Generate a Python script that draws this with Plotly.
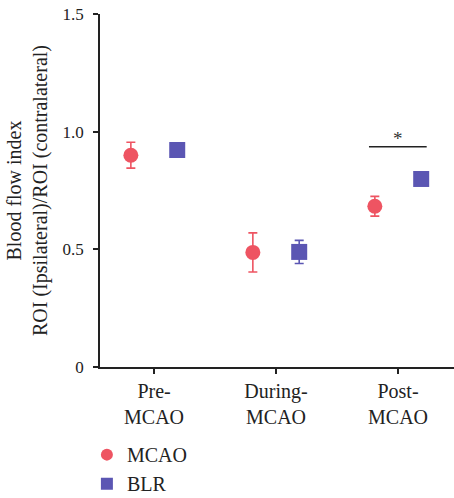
import plotly.graph_objects as go

categories = ["Pre-<br>MCAO", "During-<br>MCAO", "Post-<br>MCAO"]
mcao_values = [0.90, 0.487, 0.683]
mcao_errors = [0.055, 0.083, 0.042]
blr_values = [0.922, 0.489, 0.799]
blr_errors = [0.02, 0.049, 0.02]
y_ticks = [0, 0.5, 1.0, 1.5]
y_tick_labels = ["0", "0.5", "1.0", "1.5"]
sig_category = 2
sig_y = 0.936
sig_label = "*"

RED = "#EE5462"
BLUE = "#5B56B3"
FONT = "Liberation Serif"
offset = 0.19
xpos = list(range(len(categories)))

fig = go.Figure()
fig.add_trace(go.Scatter(
    x=[p - offset for p in xpos], y=mcao_values, mode="markers", name="MCAO",
    marker=dict(symbol="circle", size=15, color=RED),
    error_y=dict(type="data", array=mcao_errors, color=RED, thickness=1.6, width=4.5),
))
fig.add_trace(go.Scatter(
    x=[p + offset for p in xpos], y=blr_values, mode="markers", name="BLR",
    marker=dict(symbol="square", size=16, color=BLUE),
    error_y=dict(type="data", array=blr_errors, color=BLUE, thickness=1.6, width=4.5),
))

# significance bracket
fig.add_shape(type="line", xref="x", yref="y",
              x0=sig_category - 0.238, x1=sig_category + 0.235, y0=sig_y, y1=sig_y,
              line=dict(color="#222222", width=1.5))
fig.add_annotation(x=sig_category, y=sig_y, text=sig_label, showarrow=False,
                   yanchor="bottom", yshift=-4, font=dict(family=FONT, size=19, color="#333333"))

# extend x axis line slightly left of y axis
fig.add_shape(type="line", xref="paper", yref="paper", x0=-5/354, x1=0, y0=0, y1=0,
              line=dict(color="#222222", width=1.5))

fig.update_layout(
    width=454, height=498,
    margin=dict(l=100, r=0, t=14, b=131, autoexpand=False),
    plot_bgcolor="white", paper_bgcolor="white",
    font=dict(family=FONT, size=19, color="#222222"),
    showlegend=True,
    legend=dict(x=-0.037, y=-0.193, xanchor="left", yanchor="top",
                font=dict(family=FONT, size=20, color="#222222"),
                itemsizing="constant", tracegroupgap=4),
    xaxis=dict(range=[-0.443, 2.459], tickvals=xpos, ticktext=categories,
               showgrid=False, zeroline=False, showline=True, linecolor="#222222", linewidth=1.5,
               ticks="outside", ticklen=5, tickwidth=1.5, tickcolor="#222222", automargin=False,
               tickfont=dict(family=FONT, size=20, color="#222222")),
    yaxis=dict(range=[0, 1.5], tickvals=y_ticks, ticktext=y_tick_labels,
               showgrid=False, zeroline=False, showline=True, linecolor="#222222", linewidth=1.5,
               ticks="outside", ticklen=5, tickwidth=1.5, tickcolor="#222222", automargin=False,
               tickfont=dict(family=FONT, size=17, color="#222222"),
               ticklabelstandoff=6,
               title=dict(text="Blood flow index<br>ROI (Ipsilateral)/ROI (contralateral)",
                          font=dict(family=FONT, size=20, color="#222222"), standoff=10)),
)

fig.write_html("out.html")
